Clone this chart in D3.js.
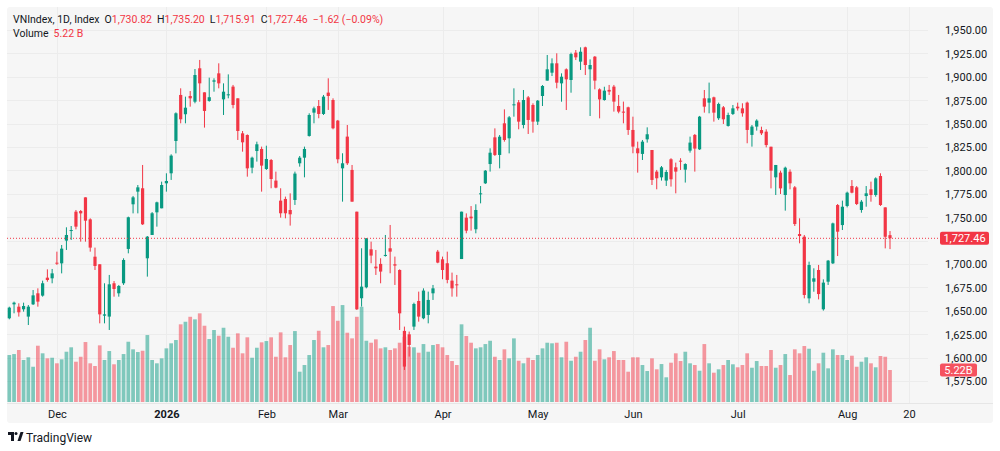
<!DOCTYPE html>
<html><head><meta charset="utf-8">
<script src="https://cdn.jsdelivr.net/npm/d3@7/dist/d3.min.js"></script>
<style>
html,body{margin:0;padding:0;background:#fff;}
text{font-family:Roboto,"Noto Sans",sans-serif;}
</style></head>
<body><svg id="c" width="1000" height="451"></svg>
<script>
// ---- data ----
const opens = [1642.0,1656.9,1654.4,1651.6,1643.8,1656.9,1668.7,1666.2,1685.4,1684.7,1701.4,1700.7,1725.0,1735.3,1755.9,1756.6,1771.2,1747.7,1707.8,1699.7,1644.8,1643.8,1679.4,1668.7,1679.4,1716.1,1763.8,1777.3,1780.9,1706.1,
1731.0,1755.2,1759.5,1786.2,1796.9,1831.4,1880.6,1860.0,1879.5,1873.4,1909.1,1883.4,1874.2,1894.8,1903.7,1875.9,1880.2,1889.5,1877.0,1839.6,1837.8,1802.9,1820.7,1822.9,1801.5,1811.1,1789.1,1767.7,1769.5,1757.7,
1768.4,1807.6,1813.6,1836.8,1861.7,1868.8,1860.3,1883.1,1875.2,1853.2,1802.2,1836.1,1800.5,1755.9,1663.4,1675.1,1715.7,1697.2,1700.1,1708.6,1716.8,1699.7,1693.6,1628.5,1624.9,1633.1,1660.5,1642.0,1645.6,1668.7,
1713.2,1705.0,1700.8,1682.2,1678.3,1705.3,1749.5,1750.6,1737.1,1774.5,1786.2,1806.8,1835.3,1816.5,1850.3,1834.3,1869.6,1872.7,1848.5,1878.0,1869.9,1852.1,1879.5,1895.9,1904.4,1914.4,1893.0,1908.0,1896.6,1925.8,
1916.2,1931.5,1908.0,1921.5,1886.6,1875.2,1886.0,1889.5,1868.8,1862.8,1867.4,1843.2,1823.6,1817.6,1833.2,1821.8,1798.7,1792.6,1789.1,1811.9,1803.3,1810.4,1800.8,1821.1,1837.9,1822.5,1877.0,1872.4,1878.1,1855.7,
1867.4,1847.5,1860.3,1868.1,1866.3,1872.4,1837.9,1846.8,1843.1,1841.4,1825.3,1792.6,1797.6,1773.7,1798.6,1781.9,1732.0,1729.2,1663.3,1681.1,1693.6,1651.6,1681.1,1700.7,1763.0,1741.6,1762.0,1783.3,1781.9,1757.7,
1772.6,1779.8,1773.7,1794.0,1760.5,1730.82];
const highs = [1654.4,1659.8,1658.0,1658.7,1656.2,1672.2,1674.0,1682.2,1694.3,1694.7,1713.2,1720.3,1739.2,1740.6,1757.7,1757.7,1771.2,1748.8,1717.5,1699.7,1679.4,1688.3,1681.8,1677.6,1706.1,1750.6,1772.7,1784.4,1805.8,1729.9,
1755.5,1766.6,1788.0,1796.9,1817.2,1862.0,1887.7,1878.8,1884.8,1908.3,1918.0,1883.4,1899.1,1898.4,1914.4,1893.0,1902.6,1891.3,1877.0,1842.1,1838.5,1814.7,1830.7,1825.4,1826.4,1812.2,1798.7,1780.9,1772.0,1775.5,
1798.7,1815.4,1825.4,1861.0,1868.1,1875.2,1880.6,1898.4,1877.0,1853.9,1818.3,1848.5,1805.8,1755.9,1716.8,1727.5,1723.9,1715.0,1706.1,1731.0,1741.7,1707.9,1694.3,1633.1,1627.8,1658.7,1670.5,1674.0,1670.5,1677.6,
1715.0,1707.9,1713.2,1690.8,1688.3,1755.9,1754.1,1761.9,1763.8,1783.3,1800.4,1823.6,1844.9,1837.8,1865.2,1858.1,1887.7,1875.2,1885.9,1879.5,1871.7,1875.2,1891.2,1923.3,1919.7,1925.1,1903.7,1909.0,1925.8,1928.6,
1931.5,1932.2,1918.6,1922.2,1887.7,1889.4,1891.3,1891.3,1880.6,1873.5,1868.1,1857.4,1830.7,1832.5,1846.0,1821.8,1800.5,1804.7,1800.5,1813.0,1808.3,1813.0,1807.6,1836.1,1838.9,1858.2,1885.9,1893.8,1878.8,1872.4,
1868.8,1861.7,1869.9,1872.4,1871.7,1873.5,1848.5,1854.6,1846.7,1843.9,1825.3,1805.8,1799.7,1804.0,1801.1,1783.3,1748.8,1731.0,1702.5,1695.4,1699.0,1683.6,1704.3,1744.2,1764.1,1767.7,1777.3,1789.7,1783.3,1768.4,
1783.3,1788.0,1792.6,1796.9,1760.5,1735.20];
const lows = [1640.9,1647.3,1643.8,1649.1,1634.8,1656.2,1654.4,1665.1,1681.1,1679.4,1699.0,1690.0,1715.0,1725.7,1737.0,1723.9,1723.9,1713.2,1693.6,1636.6,1636.6,1629.5,1665.1,1665.1,1677.6,1711.4,1754.1,1754.1,1741.7,1686.5,
1731.0,1739.9,1759.5,1777.3,1789.8,1818.2,1850.3,1850.3,1868.1,1871.7,1873.4,1845.7,1873.4,1884.1,1887.7,1859.2,1877.0,1866.3,1832.5,1820.0,1793.3,1796.9,1809.4,1777.3,1800.5,1780.9,1780.9,1749.5,1748.8,1741.0,
1763.1,1804.0,1792.6,1836.1,1850.3,1855.7,1859.2,1864.6,1843.9,1807.6,1766.6,1805.8,1766.6,1650.9,1654.5,1674.0,1700.8,1688.3,1679.4,1707.9,1690.1,1677.6,1629.5,1586.8,1601.1,1629.5,1638.4,1641.0,1636.6,1661.6,
1700.8,1683.7,1679.4,1665.1,1665.1,1705.3,1732.8,1735.6,1732.8,1764.8,1785.5,1798.7,1815.4,1802.2,1830.7,1818.2,1857.4,1843.9,1844.9,1838.9,1840.3,1848.5,1868.8,1895.9,1900.8,1887.7,1873.4,1864.5,1883.0,1917.9,
1907.3,1901.9,1858.1,1886.6,1855.6,1874.5,1880.6,1862.8,1861.0,1850.3,1837.9,1818.3,1797.6,1811.1,1829.7,1784.4,1779.8,1789.1,1783.4,1782.7,1775.5,1800.5,1787.0,1819.0,1798.7,1821.8,1861.7,1861.0,1852.1,1853.9,
1849.6,1846.8,1859.2,1863.9,1857.4,1829.0,1825.4,1842.5,1837.8,1824.6,1780.8,1773.7,1774.8,1757.0,1779.8,1740.6,1722.1,1663.3,1658.0,1670.4,1662.2,1650.2,1677.6,1700.0,1708.5,1736.3,1760.5,1775.5,1763.0,1754.8,
1761.2,1766.6,1771.9,1762.0,1716.7,1715.91];
const closes = [1653.4,1658.7,1648.4,1655.1,1654.4,1666.5,1659.8,1679.4,1682.9,1690.0,1700.7,1716.4,1731.0,1736.3,1739.9,1754.1,1746.3,1717.5,1697.9,1646.2,1646.2,1678.3,1673.3,1676.5,1704.3,1749.9,1771.2,1781.9,1742.4,1729.2,
1754.2,1765.9,1784.4,1788.7,1815.8,1861.0,1854.6,1867.0,1877.0,1901.9,1893.0,1863.5,1878.2,1896.2,1893.0,1884.1,1881.3,1869.9,1842.1,1830.0,1802.2,1813.6,1827.9,1805.1,1812.2,1790.8,1781.6,1754.2,1754.2,1753.1,
1796.6,1813.6,1822.9,1859.2,1866.3,1860.3,1878.8,1879.5,1845.0,1811.9,1807.6,1807.6,1766.6,1651.6,1675.8,1727.5,1709.0,1695.4,1691.9,1709.7,1713.2,1698.3,1647.3,1590.4,1613.5,1657.3,1643.8,1671.6,1661.6,1674.0,
1701.5,1693.6,1683.0,1674.0,1677.2,1755.9,1735.6,1748.8,1757.7,1775.5,1799.7,1818.9,1816.5,1836.0,1832.5,1856.7,1870.6,1852.1,1875.2,1853.9,1852.1,1874.5,1890.2,1908.0,1914.4,1893.7,1900.1,1897.3,1924.3,1920.8,
1926.8,1912.6,1912.6,1895.9,1875.9,1885.2,1884.2,1873.5,1862.8,1861.7,1843.2,1825.4,1818.3,1830.7,1838.6,1789.8,1791.6,1803.3,1798.3,1790.5,1798.7,1809.4,1806.8,1829.7,1823.3,1857.4,1868.1,1877.0,1861.7,1871.0,
1854.6,1859.2,1866.3,1866.3,1861.0,1843.2,1846.8,1853.2,1839.6,1827.1,1799.7,1805.8,1780.8,1802.9,1786.2,1742.7,1729.9,1666.9,1698.9,1684.7,1667.9,1680.1,1703.6,1743.4,1734.5,1761.2,1776.2,1776.2,1764.1,1766.6,
1775.5,1773.7,1791.5,1763.0,1729.08,1727.46];
const volumes = [7.66,7.82,8.48,6.85,7.29,5.75,9.18,7.94,7.12,7.22,6.31,6.96,8.20,8.92,6.57,7.38,9.78,6.31,5.87,9.24,6.85,8.31,6.15,6.85,7.82,9.83,8.59,8.15,8.36,10.92,
6.85,6.31,7.12,8.75,9.57,10.11,12.67,13.09,13.90,13.48,14.46,12.44,10.27,11.74,10.81,12.11,10.64,8.85,11.20,7.94,10.55,7.22,8.85,9.73,9.94,10.55,7.38,11.36,7.29,9.29,
11.57,4.94,6.03,7.66,10.11,11.62,8.92,9.29,15.65,13.25,15.81,11.30,10.38,13.90,15.53,9.99,9.67,10.22,8.75,8.92,8.48,8.75,9.67,10.64,9.01,8.92,8.04,9.45,8.20,9.29,
9.45,8.92,7.66,6.68,6.03,12.67,10.76,9.67,8.75,8.92,9.45,9.99,7.38,6.85,8.59,7.12,10.38,6.73,6.31,7.22,6.85,7.66,8.75,9.67,9.57,9.67,7.29,9.83,6.73,7.38,
8.20,10.11,12.11,6.73,8.59,6.96,7.29,8.31,6.85,6.85,4.94,7.29,7.29,6.03,5.05,7.12,5.33,6.19,4.03,6.41,7.94,6.68,8.20,6.31,6.03,5.10,9.45,6.31,4.78,5.33,
6.03,6.85,6.15,5.66,6.03,7.94,5.59,6.68,5.87,5.87,8.48,5.59,6.03,7.82,4.40,8.59,7.94,9.13,8.69,5.10,6.31,8.04,5.49,8.59,7.66,7.66,6.85,7.55,5.75,6.57,
7.29,6.31,5.66,7.50,7.38,5.22];
const priceTicks = [1575,1600,1625,1650,1675,1700,1725,1750,1775,1800,1825,1850,1875,1900,1925,1950];
const timeLabels = ["Dec","2026","Feb","Mar","Apr","May","Jun","Jul","Aug","20"];
const timeLabelBars = [10,33,54,69,91,111,131,153,176,189];

// ---- drawing ----
const UP="#089981", DN="#F23645", TXT="#131722";
const svg = d3.select("#c");
const n = closes.length;
const x = d3.scaleLinear().domain([0, n-1]).range([9.3, 890]);
const y = d3.scaleLinear().domain([1575, 1950]).range([381, 30]);
const last = closes[n-1];
const vy = d3.scaleLinear().domain([0, volumes[n-1]]).range([402, 370]);
const plotL=7, plotR=928, plotT=7, plotB=403;

svg.append("rect").attr("x",0).attr("y",0).attr("width",1000).attr("height",451).attr("fill","#fff");
svg.append("rect").attr("x",7).attr("y",7).attr("width",986).attr("height",416).attr("rx",3).attr("fill","#f6f6f6");

const defs = svg.append("defs");
defs.append("clipPath").attr("id","plot").append("rect").attr("x",plotL).attr("y",plotT).attr("width",plotR-plotL).attr("height",plotB-plotT);

// grid
const grid = svg.append("g").attr("clip-path","url(#plot)");
grid.selectAll(".hg").data(priceTicks).join("line")
  .attr("x1",plotL).attr("x2",plotR).attr("y1",d=>Math.round(y(d))+0.5).attr("y2",d=>Math.round(y(d))+0.5)
  .attr("stroke","#ececec").attr("stroke-width",1);
grid.selectAll(".vg").data(timeLabelBars).join("line")
  .attr("y1",plotT).attr("y2",plotB).attr("x1",d=>Math.round(x(d))+0.5).attr("x2",d=>Math.round(x(d))+0.5)
  .attr("stroke","#ececec").attr("stroke-width",1);

// axis separator
svg.append("line").attr("x1",plotL).attr("x2",993).attr("y1",plotB+0.5).attr("y2",plotB+0.5).attr("stroke","#e6e6e6");

const idx = d3.range(n);
const g = svg.append("g").attr("clip-path","url(#plot)");

// volume
g.selectAll(".vol").data(idx).join("rect")
  .attr("x",i=>x(i)-1.85).attr("width",3.7)
  .attr("y",i=>vy(volumes[i])).attr("height",i=>402-vy(volumes[i]))
  .attr("fill",i=>closes[i]>=opens[i]?UP:DN).attr("fill-opacity",0.5);

// last price line
svg.append("line").attr("x1",plotL).attr("x2",940).attr("y1",y(last)).attr("y2",y(last))
  .attr("stroke",DN).attr("stroke-width",1).attr("stroke-dasharray","1,2");

// wicks
g.selectAll(".wick").data(idx).join("line")
  .attr("x1",i=>x(i)).attr("x2",i=>x(i)).attr("y1",i=>y(highs[i])).attr("y2",i=>y(lows[i]))
  .attr("stroke",i=>closes[i]>=opens[i]?UP:DN).attr("stroke-width",1);
// bodies
g.selectAll(".body").data(idx).join("rect")
  .attr("x",i=>x(i)-1.6).attr("width",3.2)
  .attr("y",i=>y(Math.max(opens[i],closes[i])))
  .attr("height",i=>Math.max(1,Math.abs(y(opens[i])-y(closes[i]))))
  .attr("fill",i=>closes[i]>=opens[i]?UP:DN);

// price axis (labels hidden where the last-price / volume labels cover them)
const lastY = y(last), volY = vy(volumes[n-1]);
const shownTicks = priceTicks.filter(t => Math.abs(y(t)-lastY) > 12);
const ya = d3.axisRight(y).tickValues(shownTicks).tickSize(0).tickPadding(0).tickFormat(d3.format(",.2f"));
const yg = svg.append("g").attr("transform","translate(945,0)").call(ya);
yg.select(".domain").remove();
yg.selectAll("text").attr("fill",TXT).attr("font-size",11).attr("dy","0.35em");

// last price label
svg.append("rect").attr("x",940).attr("y",lastY-6.5).attr("width",49).attr("height",13).attr("rx",2).attr("fill",DN);
svg.append("text").attr("x",964.5).attr("y",lastY).attr("dy","0.36em").attr("text-anchor","middle")
  .attr("fill","#fff").attr("font-size",11).text(d3.format(",.2f")(last));
// volume label
svg.append("rect").attr("x",940).attr("y",volY-6.5).attr("width",37).attr("height",13).attr("rx",2).attr("fill","#f5525f");
svg.append("text").attr("x",958.5).attr("y",volY).attr("dy","0.36em").attr("text-anchor","middle")
  .attr("fill","#fff").attr("font-size",11).text(volumes[n-1].toFixed(2)+"B");

// time axis
const xa = d3.axisBottom(x).tickValues(timeLabelBars).tickSize(0).tickPadding(0).tickFormat((d,i)=>timeLabels[i]);
const xg = svg.append("g").attr("transform","translate(0,414)").call(xa);
xg.select(".domain").remove();
xg.selectAll("text").attr("fill",TXT).attr("font-size",11).attr("dy","0.35em")
  .attr("font-weight",(d,i)=>timeLabels[i]==="2026"?"bold":"normal");

// header legend
const prevClose = closes[n-2];
const chg = last - prevClose, pct = chg/prevClose*100;
const f2 = d3.format(",.2f");
const minus = v => (v<0?"\u2212":"+") + Math.abs(v).toFixed(2);
const h = svg.append("text").attr("x",13).attr("y",23).attr("font-size",10.5).attr("fill",TXT);
h.append("tspan").text("VNIndex, 1D, Index");
[["O",opens[n-1]],["H",highs[n-1]],["L",lows[n-1]],["C",closes[n-1]]].forEach(([k,v])=>{
  h.append("tspan").attr("dx",5).attr("fill",TXT).text(k);
  h.append("tspan").attr("fill",DN).text(f2(v));
});
h.append("tspan").attr("dx",5).attr("fill",DN).text(minus(chg)+" ("+minus(pct)+"%)");
const v2 = svg.append("text").attr("x",13).attr("y",36.5).attr("font-size",10.5).attr("fill",TXT);
v2.append("tspan").text("Volume");
v2.append("tspan").attr("dx",5).attr("fill",DN).text(volumes[n-1].toFixed(2)+" B");

// TradingView logo
const logo = svg.append("g").attr("transform","translate(8,432)").attr("fill",TXT);
logo.append("path").attr("d","M0,0 H6 V9 H3 V3 H0 Z");
logo.append("circle").attr("cx",8).attr("cy",1.5).attr("r",1.5);
logo.append("path").attr("d","M9.5,9 L12.5,0 H15.5 L12.5,9 Z");
svg.append("text").attr("x",26).attr("y",441.5).attr("font-size",12).attr("fill",TXT).text("TradingView");
</script></body></html>
